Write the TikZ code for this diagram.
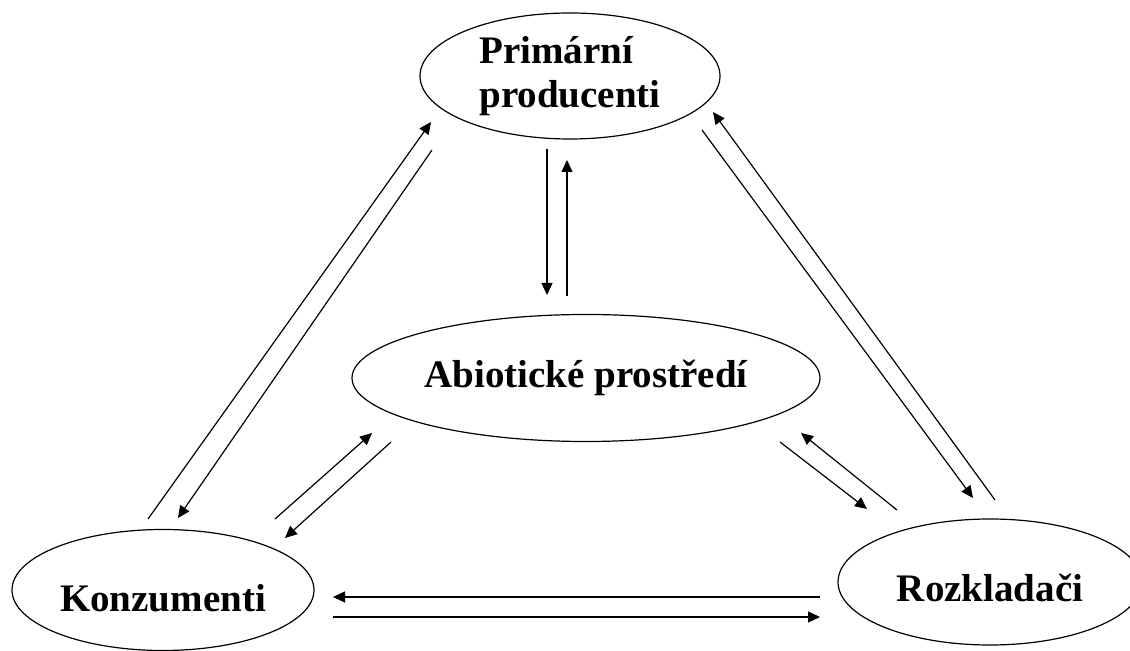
\documentclass[tikz,border=0pt]{standalone}
\usepackage{fontspec}
\setmainfont{Liberation Serif}
\usetikzlibrary{shapes,arrows.meta}

\begin{document}
\begin{tikzpicture}[x=0.5pt,y=-0.5pt,
  oval/.style={shape=ellipse,draw=black,line width=0.6pt,inner sep=0pt,align=center,font=\bfseries\fontsize{19.5pt}{22pt}\selectfont},
  flow/.style={-{Triangle[length=6pt,width=5.5pt]},draw=black,line width=0.6pt}]
\useasboundingbox (0,0) rectangle (1130,651);
\node[oval,minimum width=150pt,minimum height=63pt,align=left] (0) at (570,76) {Primární\\producenti};
\node[oval,minimum width=234pt,minimum height=63.5pt] (1) at (586,378) {Abiotické prostředí};
\node[oval,minimum width=151pt,minimum height=60.5pt,text height=22pt,text depth=0pt] (2) at (163,590) {Konzumenti};
\node[oval,minimum width=152pt,minimum height=63pt,text height=20pt,text depth=0pt] (3) at (990,582) {Rozkladači};

\coordinate (a1) at (547,149); \coordinate (a2) at (547,295);
\coordinate (a3) at (567,296); \coordinate (a4) at (567,160);
\coordinate (b1) at (148,519); \coordinate (b2) at (431,122);
\coordinate (b3) at (432,150); \coordinate (b4) at (178,518);
\coordinate (c1) at (702,130); \coordinate (c2) at (973,498);
\coordinate (c3) at (995,500); \coordinate (c4) at (713,112);
\coordinate (d1) at (275,519); \coordinate (d2) at (372,433);
\coordinate (d3) at (391,442); \coordinate (d4) at (285,538);
\coordinate (e1) at (780,442); \coordinate (e2) at (867,509);
\coordinate (e3) at (897,510); \coordinate (e4) at (801,433);
\coordinate (f1) at (820,597); \coordinate (f2) at (333,597);
\coordinate (f3) at (333,617); \coordinate (f4) at (820,617);

\draw [flow] (a1) -- (a2);
\draw [flow] (a3) -- (a4);
\draw [flow] (b1) -- (b2);
\draw [flow] (b3) -- (b4);
\draw [flow] (c1) -- (c2);
\draw [flow] (c3) -- (c4);
\draw [flow] (d1) -- (d2);
\draw [flow] (d3) -- (d4);
\draw [flow] (e1) -- (e2);
\draw [flow] (e3) -- (e4);
\draw [flow] (f1) -- (f2);
\draw [flow] (f3) -- (f4);
\end{tikzpicture}
\end{document}
